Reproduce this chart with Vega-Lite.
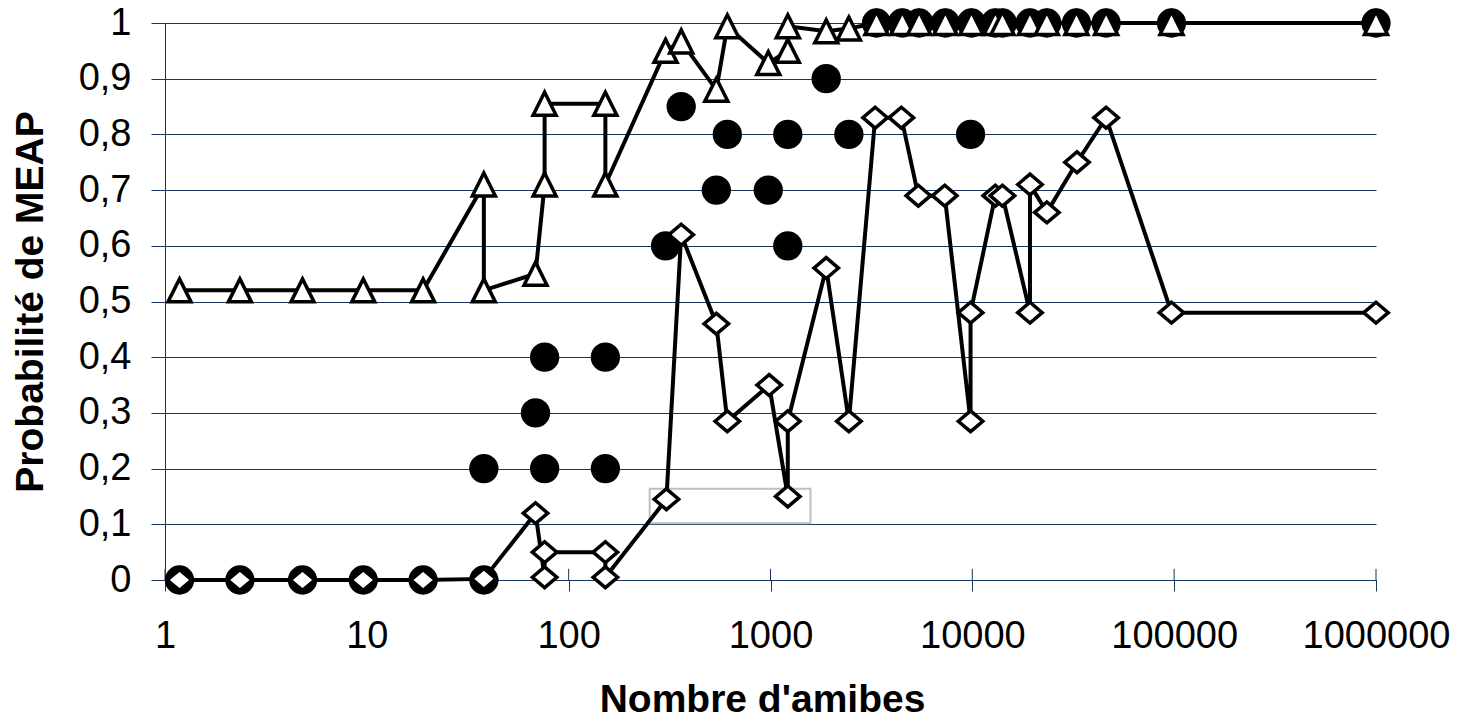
{
  "$schema": "https://vega.github.io/schema/vega-lite/v6.json",
  "width": 1211,
  "height": 557,
  "autosize": "none",
  "padding": {"left": 165, "top": 23, "right": 86, "bottom": 142},
  "background": "white",
  "config": {"view": {"stroke": null}, "font": "Liberation Sans"},
  "data": {"values": [
    {"s":"box","n":252,"n2":1578,"p":0.102,"p2":0.164},
    {"s":"tick","n":1,"p":0,"p2":0.02},
    {"s":"tick","n":10,"p":0,"p2":0.02},
    {"s":"tick","n":100,"p":0,"p2":0.02},
    {"s":"tick","n":1000,"p":0,"p2":0.02},
    {"s":"tick","n":10000,"p":0,"p2":0.02},
    {"s":"tick","n":100000,"p":0,"p2":0.02},
    {"s":"tick","n":1000000,"p":0,"p2":0.02},

    {"s":"dot","n":1.18,"p":0},
    {"s":"dot","n":2.35,"p":0},
    {"s":"dot","n":4.8,"p":0},
    {"s":"dot","n":9.6,"p":0},
    {"s":"dot","n":19,"p":0},
    {"s":"dot","n":38,"p":0},
    {"s":"dot","n":38,"p":0.2},
    {"s":"dot","n":68.5,"p":0.3},
    {"s":"dot","n":76,"p":0.2},
    {"s":"dot","n":76,"p":0.4},
    {"s":"dot","n":152,"p":0.2},
    {"s":"dot","n":152,"p":0.4},
    {"s":"dot","n":302,"p":0.6},
    {"s":"dot","n":361,"p":0.85},
    {"s":"dot","n":539,"p":0.7},
    {"s":"dot","n":611,"p":0.8},
    {"s":"dot","n":975,"p":0.7},
    {"s":"dot","n":1218,"p":0.8},
    {"s":"dot","n":1218,"p":0.6},
    {"s":"dot","n":1888,"p":0.9},
    {"s":"dot","n":2445,"p":0.8},
    {"s":"dot","n":9800,"p":0.8},
    {"s":"dot","n":3350,"p":1},
    {"s":"dot","n":4500,"p":1},
    {"s":"dot","n":5450,"p":1},
    {"s":"dot","n":7350,"p":1},
    {"s":"dot","n":9900,"p":1},
    {"s":"dot","n":13000,"p":1},
    {"s":"dot","n":14100,"p":1},
    {"s":"dot","n":19300,"p":1},
    {"s":"dot","n":23400,"p":1},
    {"s":"dot","n":32800,"p":1},
    {"s":"dot","n":46000,"p":1},
    {"s":"dot","n":97000,"p":1},
    {"s":"dot","n":1000000,"p":1},

    {"s":"dia","o":1,"n":1.18,"p":0},
    {"s":"dia","o":2,"n":2.35,"p":0},
    {"s":"dia","o":3,"n":4.8,"p":0},
    {"s":"dia","o":4,"n":9.6,"p":0},
    {"s":"dia","o":5,"n":19,"p":0},
    {"s":"dia","o":6,"n":38,"p":0.002},
    {"s":"dia","o":7,"n":68.5,"p":0.12},
    {"s":"dia","o":8,"n":76,"p":0.005},
    {"s":"dia","o":9,"n":76,"p":0.05},
    {"s":"dia","o":10,"n":152,"p":0.05},
    {"s":"dia","o":11,"n":152,"p":0.005},
    {"s":"dia","o":12,"n":305,"p":0.145},
    {"s":"dia","o":13,"n":361,"p":0.62},
    {"s":"dia","o":14,"n":539,"p":0.46},
    {"s":"dia","o":15,"n":611,"p":0.285},
    {"s":"dia","o":16,"n":985,"p":0.35},
    {"s":"dia","o":17,"n":1218,"p":0.15},
    {"s":"dia","o":18,"n":1218,"p":0.285},
    {"s":"dia","o":19,"n":1888,"p":0.56},
    {"s":"dia","o":20,"n":2445,"p":0.285},
    {"s":"dia","o":21,"n":3300,"p":0.83},
    {"s":"dia","o":22,"n":4450,"p":0.83},
    {"s":"dia","o":23,"n":5400,"p":0.69},
    {"s":"dia","o":24,"n":7300,"p":0.69},
    {"s":"dia","o":25,"n":9800,"p":0.285},
    {"s":"dia","o":26,"n":9800,"p":0.48},
    {"s":"dia","o":27,"n":13000,"p":0.69},
    {"s":"dia","o":28,"n":14100,"p":0.69},
    {"s":"dia","o":29,"n":19300,"p":0.48},
    {"s":"dia","o":30,"n":19300,"p":0.71},
    {"s":"dia","o":31,"n":23400,"p":0.66},
    {"s":"dia","o":32,"n":33000,"p":0.75},
    {"s":"dia","o":33,"n":46000,"p":0.83},
    {"s":"dia","o":34,"n":97000,"p":0.48},
    {"s":"dia","o":35,"n":1000000,"p":0.48},

    {"s":"tri","o":1,"n":1.18,"p":0.52},
    {"s":"tri","o":2,"n":2.35,"p":0.52},
    {"s":"tri","o":3,"n":4.8,"p":0.52},
    {"s":"tri","o":4,"n":9.6,"p":0.52},
    {"s":"tri","o":5,"n":19,"p":0.52},
    {"s":"tri","o":6,"n":38,"p":0.71},
    {"s":"tri","o":7,"n":38,"p":0.52},
    {"s":"tri","o":8,"n":68.5,"p":0.55},
    {"s":"tri","o":9,"n":76,"p":0.71},
    {"s":"tri","o":10,"n":76,"p":0.855},
    {"s":"tri","o":11,"n":152,"p":0.855},
    {"s":"tri","o":12,"n":152,"p":0.71},
    {"s":"tri","o":13,"n":302,"p":0.95},
    {"s":"tri","o":14,"n":361,"p":0.967},
    {"s":"tri","o":15,"n":539,"p":0.88},
    {"s":"tri","o":16,"n":611,"p":0.994},
    {"s":"tri","o":17,"n":975,"p":0.928},
    {"s":"tri","o":18,"n":1218,"p":0.95},
    {"s":"tri","o":19,"n":1218,"p":0.994},
    {"s":"tri","o":20,"n":1888,"p":0.985},
    {"s":"tri","o":21,"n":2445,"p":0.99},
    {"s":"tri","o":22,"n":3350,"p":1},
    {"s":"tri","o":23,"n":4500,"p":1},
    {"s":"tri","o":24,"n":5450,"p":1},
    {"s":"tri","o":25,"n":7350,"p":1},
    {"s":"tri","o":26,"n":9900,"p":1},
    {"s":"tri","o":27,"n":13000,"p":1},
    {"s":"tri","o":28,"n":14100,"p":1},
    {"s":"tri","o":29,"n":19300,"p":1},
    {"s":"tri","o":30,"n":23400,"p":1},
    {"s":"tri","o":31,"n":32800,"p":1},
    {"s":"tri","o":32,"n":46000,"p":1},
    {"s":"tri","o":33,"n":97000,"p":1},
    {"s":"tri","o":34,"n":1000000,"p":1}
  ]},
  "encoding": {
    "x": {
      "field": "n", "type": "quantitative",
      "scale": {"type": "log", "domain": [1, 1000000], "nice": false, "zero": false},
      "axis": {
        "values": [1, 10, 100, 1000, 10000, 100000, 1000000],
        "format": "d",
        "grid": false,
        "domainColor": "#17365D", "domainWidth": 1,
        "tickColor": "#17365D", "tickWidth": 1, "tickSize": 11,
        "labelFontSize": 38, "labelColor": "black", "labelFont": "Liberation Sans",
        "labelPadding": 26, "labelFlush": false, "labelOverlap": false,
        "title": "Nombre d'amibes",
        "titleFontSize": 39, "titleFontWeight": "bold", "titleColor": "black", "titleFont": "Liberation Sans",
        "titlePadding": 25, "titleX": 597
      }
    },
    "y": {
      "field": "p", "type": "quantitative",
      "scale": {"domain": [0, 1], "nice": false, "zero": false},
      "axis": {
        "values": [0, 0.1, 0.2, 0.3, 0.4, 0.5, 0.6, 0.7, 0.8, 0.9, 1],
        "labelExpr": "replace(format(datum.value, '.1~f'), '.', ',')",
        "grid": true, "gridColor": "#17365D", "gridWidth": 1,
        "domainColor": "#17365D", "domainWidth": 1,
        "tickColor": "#17365D", "tickWidth": 1, "tickSize": 14,
        "labelFontSize": 38, "labelColor": "black", "labelFont": "Liberation Sans",
        "labelPadding": 20, "labelOverlap": false,
        "title": "Probabilité de MEAP",
        "titleFontSize": 39, "titleFontWeight": "bold", "titleColor": "black", "titleFont": "Liberation Sans",
        "titlePadding": 28
      }
    }
  },
  "layer": [
    {
      "transform": [{"filter": "datum.s === 'box'"}],
      "mark": {"type": "rect", "fill": null, "fillOpacity": 0, "stroke": "#BFBFBF", "strokeWidth": 2},
      "encoding": {"x2": {"field": "n2"}, "y2": {"field": "p2"}}
    },
    {
      "transform": [{"filter": "datum.s === 'tick'"}],
      "mark": {"type": "rule", "color": "#17365D", "strokeWidth": 1},
      "encoding": {"y2": {"field": "p2"}}
    },
    {
      "transform": [{"filter": "datum.s === 'dot'"}],
      "mark": {"type": "point", "shape": "circle", "filled": true, "fill": "black", "opacity": 1, "size": 860}
    },
    {
      "transform": [{"filter": "datum.s === 'dia'"}],
      "mark": {"type": "line", "color": "black", "strokeWidth": 4},
      "encoding": {"order": {"field": "o", "type": "quantitative"}}
    },
    {
      "transform": [{"filter": "datum.s === 'dia'"}],
      "mark": {"type": "point", "shape": "M-1,0L0,-0.85L1,0L0,0.85Z", "filled": true, "fill": "white", "stroke": "black", "strokeWidth": 3.5, "opacity": 1, "size": 600}
    },
    {
      "transform": [{"filter": "datum.s === 'tri'"}],
      "mark": {"type": "line", "color": "black", "strokeWidth": 4},
      "encoding": {"order": {"field": "o", "type": "quantitative"}}
    },
    {
      "transform": [{"filter": "datum.s === 'tri'"}],
      "mark": {"type": "point", "shape": "M0,-1L1,1L-1,1Z", "filled": true, "fill": "white", "stroke": "black", "strokeWidth": 3.5, "opacity": 1, "size": 529}
    }
  ]
}
